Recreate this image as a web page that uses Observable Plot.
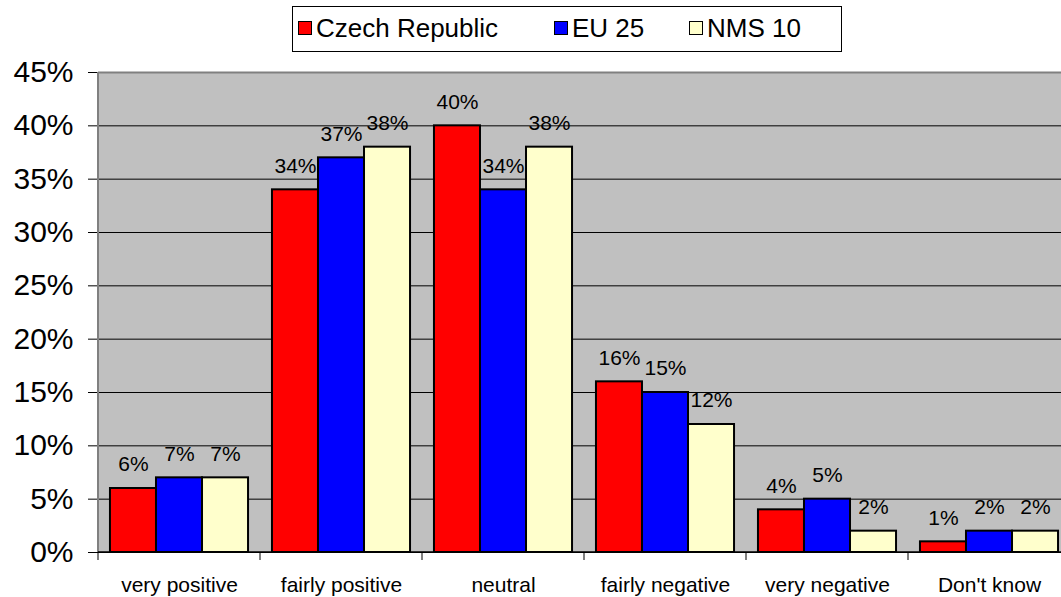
<!DOCTYPE html>
<html>
<head>
<meta charset="utf-8">
<script src="https://cdn.jsdelivr.net/npm/d3@7"></script>
<script src="https://cdn.jsdelivr.net/npm/@observablehq/plot@0.6"></script>
<style>
  html, body { margin: 0; padding: 0; background: #fff; overflow: hidden; width: 1061px; height: 597px; }
  #wrap { position: relative; width: 1061px; height: 597px; overflow: hidden; font-family: "Liberation Sans", Arial, sans-serif; }
  #chart { position: absolute; left: 0; top: 0; width: 1072px; }
  #chart svg { max-width: none !important; }
  #legend { position: absolute; left: 292px; top: 6px; width: 550px; height: 46px; box-sizing: border-box;
    border: 1px solid #000; background: #fff; font-size: 26px; color: #000; }
  .item { position: absolute; top: 0; height: 44px; }
  .sw { position: absolute; left: 0; top: 14px; width: 12px; height: 12px; border: 1.5px solid #000; }
  .lt { position: absolute; left: 18px; top: 6px; white-space: nowrap; line-height: 30px; }
</style>
</head>
<body>
<div id="wrap">
  <div id="chart"></div>
  <div id="legend"></div>
</div>
<script>
const categories = ["very positive", "fairly positive", "neutral", "fairly negative", "very negative", "Don't know"];
const series = ["Czech Republic", "EU 25", "NMS 10"];
const czech = [6, 34, 40, 16, 4, 1];
const eu25 = [7, 37, 34, 15, 5, 2];
const nms10 = [7, 38, 38, 12, 2, 2];
const colors = ["#ff0000", "#0000ff", "#ffffcc"];
const yTicks = [0, 5, 10, 15, 20, 25, 30, 35, 40, 45];

const values = [czech, eu25, nms10];
const data = [];
categories.forEach((c, i) => series.forEach((s, j) => data.push({cat: c, series: s, value: values[j][i]})));

const plot = Plot.plot({
  width: 1072,
  height: 597,
  marginLeft: 98,
  marginRight: 2,
  marginTop: 72,
  marginBottom: 45,
  style: {fontFamily: "'Liberation Sans', Arial, sans-serif", background: "transparent", color: "#000", maxWidth: "none"},
  fx: {domain: categories, padding: 0, label: null, round: false},
  x: {domain: series, paddingInner: 0, paddingOuter: 0.26, round: false, axis: null},
  y: {domain: [0, 45], label: null},
  color: {domain: series, range: colors},
  marks: [
    Plot.gridY(yTicks, {stroke: "#000", strokeOpacity: 1, strokeWidth: 1}),
    Plot.ruleY([45], {stroke: "#808080", strokeWidth: 2}),
    Plot.barY(data, {fx: "cat", x: "series", y: "value", fill: "series", stroke: "#000", strokeWidth: 2, inset: 0}),
    Plot.ruleY([0], {stroke: "#000", strokeWidth: 1}),
    Plot.text(data, {fx: "cat", x: "series", y: "value", text: d => d.value + "%", dy: -24, fontSize: 21, fill: "#000"}),
    Plot.axisY(yTicks, {tickFormat: d => d + "%", tickSize: 10, tickPadding: 15, fontSize: 30, stroke: "#000", label: null}),
    Plot.axisFx({anchor: "bottom", tickSize: 0, tickPadding: 25, fontSize: 21, label: null})
  ]
});

document.getElementById("chart").appendChild(plot);

// plot-area background, axis lines and category boundary ticks, positioned through Plot's scales
const fx = plot.scale("fx");
const y = plot.scale("y");
const svg = d3.select(plot);
const y0 = y.apply(0), y45 = y.apply(45);
const left = fx.apply(categories[0]);
const bounds = categories.map(c => fx.apply(c));
bounds.push(fx.apply(categories[categories.length - 1]) + fx.bandwidth);
const right = bounds[bounds.length - 1];
svg.insert("rect", ":first-child")
  .attr("x", left).attr("y", y45).attr("width", right - left).attr("height", y0 - y45)
  .attr("fill", "#c0c0c0");
svg.append("line").attr("x1", left).attr("x2", left).attr("y1", y0).attr("y2", y45)
  .attr("stroke", "#808080").attr("stroke-width", 2);
svg.append("line").attr("x1", left).attr("x2", right).attr("y1", y0).attr("y2", y0)
  .attr("stroke", "#000").attr("stroke-width", 1.5);
bounds.forEach(b => svg.append("line").attr("x1", b).attr("x2", b).attr("y1", y0).attr("y2", y0 + 8)
  .attr("stroke", "#000").attr("stroke-width", 1));

// legend
const legend = document.getElementById("legend");
const lefts = [5, 261, 396];
series.forEach((s, i) => {
  const it = document.createElement("div");
  it.className = "item";
  it.style.left = lefts[i] + "px";
  const sw = document.createElement("div");
  sw.className = "sw";
  sw.style.background = colors[i];
  it.appendChild(sw);
  const t = document.createElement("span");
  t.className = "lt";
  t.textContent = s;
  it.appendChild(t);
  legend.appendChild(it);
});
</script>
</body>
</html>
